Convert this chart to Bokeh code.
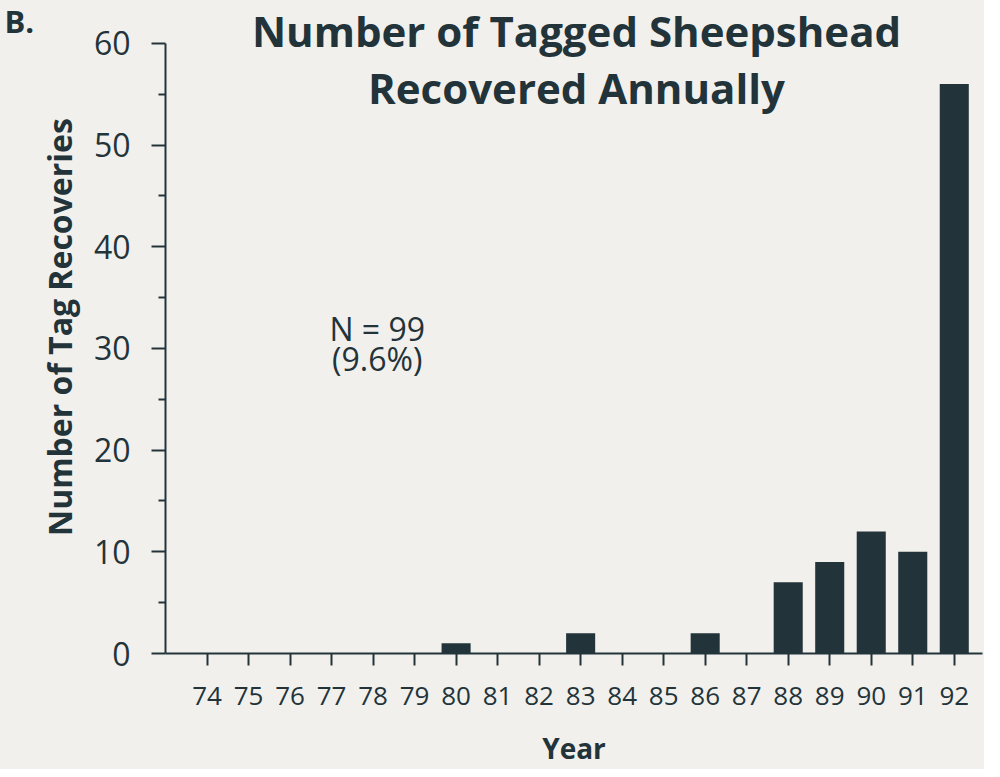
from bokeh.plotting import figure
from bokeh.models import Range1d, FixedTicker, Label
from bokeh.layouts import row
from bokeh.embed import file_html
from bokeh.resources import INLINE

years = [74, 75, 76, 77, 78, 79, 80, 81, 82, 83, 84, 85, 86, 87, 88, 89, 90, 91, 92]
tag_recoveries = [0, 0, 0, 0, 0, 0, 1, 0, 0, 2, 0, 0, 2, 0, 7, 9, 12, 10, 56]
y_ticks = [0, 10, 20, 30, 40, 50, 60]
y_minor_ticks = [5, 15, 25, 35, 45, 55]
title_lines = ["Number of Tagged Sheepshead", "Recovered Annually"]
title_x = 82.9
title_y = [61.3, 55.7]
panel_letter = "B."
note_lines = ["N = 99", "(9.6%)"]
note_x = 78.1
note_y = [31.96, 29.0]

INK = "#22343a"
BG = "#f2f0ec"
FONT = "Open Sans"

# small side panel holding the panel letter
side = figure(width=34, height=769, output_backend="svg", toolbar_location=None,
              x_range=Range1d(0, 34), y_range=Range1d(0, 769),
              min_border=0, x_axis_type=None, y_axis_type=None)
side.background_fill_color = BG
side.border_fill_color = BG
side.outline_line_color = None
side.xgrid.grid_line_color = None
side.ygrid.grid_line_color = None
side.add_layout(Label(x=4, y=745, text=panel_letter, text_font=FONT, text_font_style="bold",
                      text_font_size="31px", text_color=INK, text_align="left",
                      text_baseline="middle"))

p = figure(width=950, height=769, output_backend="svg", toolbar_location=None,
           x_range=Range1d(73, 92.68), y_range=Range1d(0, 64.216),
           min_border_left=126, min_border_right=2, min_border_top=0, min_border_bottom=114)
p.background_fill_color = BG
p.border_fill_color = BG
p.outline_line_color = None
p.xgrid.grid_line_color = None
p.ygrid.grid_line_color = None

p.vbar(x=years, top=tag_recoveries, width=0.7, bottom=0, fill_color=INK, line_color=None)

# y axis
ya = p.yaxis[0]
ya.bounds = (0, 60)
ya.ticker = FixedTicker(ticks=y_ticks, minor_ticks=y_minor_ticks)
ya.axis_line_color = INK
ya.axis_line_width = 2
ya.major_tick_line_color = INK
ya.major_tick_line_width = 2
ya.major_tick_out = 14
ya.major_tick_in = 0
ya.minor_tick_line_color = INK
ya.minor_tick_line_width = 2
ya.minor_tick_out = 7
ya.minor_tick_in = 0
ya.major_label_text_font = FONT
ya.major_label_text_font_size = "32px"
ya.major_label_text_color = INK
ya.major_label_standoff = 21
ya.axis_label = "Number of Tag Recoveries"
ya.axis_label_text_font = FONT
ya.axis_label_text_font_style = "bold"
ya.axis_label_text_font_size = "32px"
ya.axis_label_text_color = INK
ya.axis_label_standoff = 10

# x axis
xa = p.xaxis[0]
xa.ticker = FixedTicker(ticks=years, minor_ticks=[])
xa.axis_line_color = INK
xa.axis_line_width = 2
xa.major_tick_line_color = INK
xa.major_tick_line_width = 2
xa.major_tick_out = 12
xa.major_tick_in = 0
xa.minor_tick_line_color = None
xa.major_label_text_font = FONT
xa.major_label_text_font_size = "26px"
xa.major_label_text_color = INK
xa.major_label_standoff = 21
xa.major_label_text_line_height = 0.9
xa.axis_label = "Year"
xa.axis_label_text_font = FONT
xa.axis_label_text_font_style = "bold"
xa.axis_label_text_font_size = "28px"
xa.axis_label_text_color = INK
xa.axis_label_standoff = 21
xa.axis_label_text_line_height = 0.9

for txt, yy in zip(title_lines, title_y):
    p.add_layout(Label(x=title_x, y=yy, text=txt, text_font=FONT, text_font_style="bold",
                       text_font_size="42px", text_color=INK, text_align="center",
                       text_baseline="middle"))

for txt, yy in zip(note_lines, note_y):
    p.add_layout(Label(x=note_x, y=yy, text=txt, text_font=FONT, text_font_size="32px",
                       text_color=INK, text_align="center", text_baseline="middle"))

layout = row(side, p, spacing=0, styles={"background-color": BG})
open("out.html", "w").write(file_html(layout, INLINE))
